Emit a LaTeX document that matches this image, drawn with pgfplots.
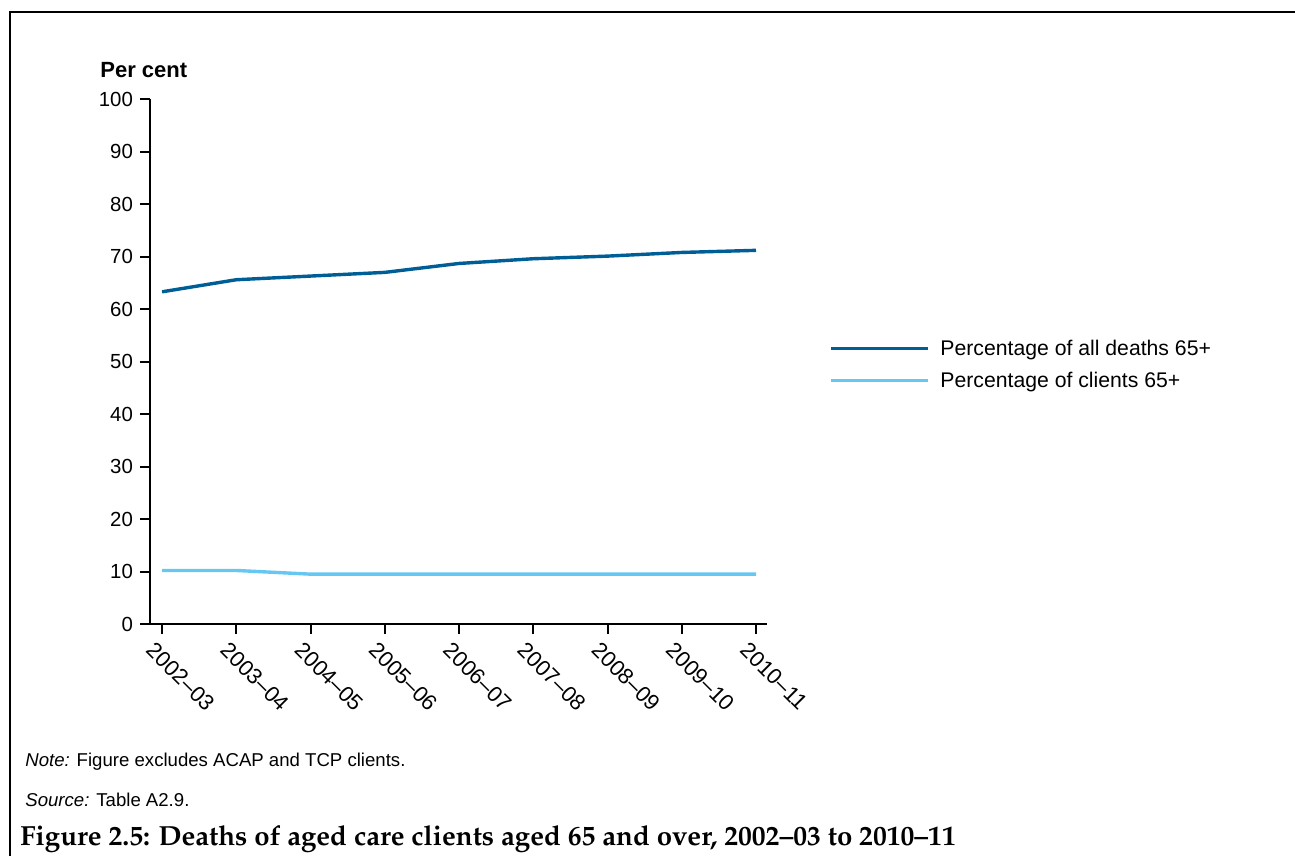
\documentclass[border=0pt]{standalone}
\usepackage{pgfplots}
\pgfplotsset{compat=1.18}
\usepackage{fontspec}
\setmainfont{Liberation Sans}
\definecolor{darkb}{RGB}{0,94,150}
\definecolor{lightb}{RGB}{102,200,242}
\pgfplotstableread{
x deaths clients
0 63.3 10.2
1 65.6 10.2
2 66.3 9.5
3 67.0 9.5
4 68.7 9.5
5 69.6 9.5
6 70.1 9.5
7 70.8 9.5
8 71.2 9.5
}\datatable
\begin{document}
\begin{tikzpicture}
\path[use as bounding box] (0,0) rectangle (647.5pt,-428pt);
\draw[line width=1pt] (5pt,-428pt) -- (5pt,-6pt) -- (647.5pt,-6pt);
\begin{axis}[
  at={(75pt,-312pt)}, anchor=south west,
  scale only axis, width=308.5pt, height=262.4pt,
  xmin=-0.162, xmax=8.148, ymin=0, ymax=100,
  axis x line=bottom, axis y line=left,
  axis line style={-, line width=1pt, black},
  every tick/.style={black, line width=1pt},
  tick align=outside, major tick length=5pt,
  xtick={0,...,8},
  xticklabels={2002–03,2003–04,2004–05,2005–06,2006–07,2007–08,2008–09,2009–10,2010–11},
  ytick={0,10,...,100},
  /pgf/number format/assume math mode=true,
  ticklabel style={font=\fontsize{10.2}{12}\selectfont},
  xticklabel style={rotate=-45, anchor=north west, inner sep=1pt, font=\fontsize{11}{13}\selectfont, yshift=-3.5pt, xshift=-1pt},
  legend style={at={(axis description cs:1.1,0.4917)}, anchor=west, draw=none, fill=none,
    inner sep=0pt, font=\fontsize{10.6}{12}\selectfont,
    nodes={inner sep=0pt, text height=7.5pt, text depth=2pt},
    row sep=6.5pt,
    /tikz/every odd column/.style={column sep=5.5pt}},
  legend cell align=left,
  legend image code/.code={\draw[#1] (0pt,0.6pt) -- (48.5pt,0.6pt);},
  clip=false,
]
\addplot[darkb, line width=1.7pt] table[x=x, y=deaths] {\datatable};
\addlegendentry{Percentage of all deaths 65+}
\addplot[lightb, line width=1.7pt] table[x=x, y=clients] {\datatable};
\addlegendentry{Percentage of clients 65+}
\end{axis}
\node[anchor=base west, inner sep=0pt, font=\fontsize{11}{13}\selectfont\bfseries] at (50pt,-39pt) {Per cent};
\node[anchor=base west, inner sep=0pt, font=\fontsize{9.3}{11}\selectfont] at (12.5pt,-383pt) {\textit{Note:} Figure excludes ACAP and TCP clients.};
\node[anchor=base west, inner sep=0pt, font=\fontsize{9.3}{11}\selectfont] at (12.5pt,-403pt) {\textit{Source:} Table A2.9.};
\node[anchor=base west, inner sep=0pt, font=\fontencoding{OT1}\fontfamily{ppl}\fontseries{b}\fontsize{13.8}{15}\selectfont] at (10pt,-422.5pt) {Figure 2.5: Deaths of aged care clients aged 65 and over, 2002--03 to 2010--11};
\end{tikzpicture}
\end{document}
